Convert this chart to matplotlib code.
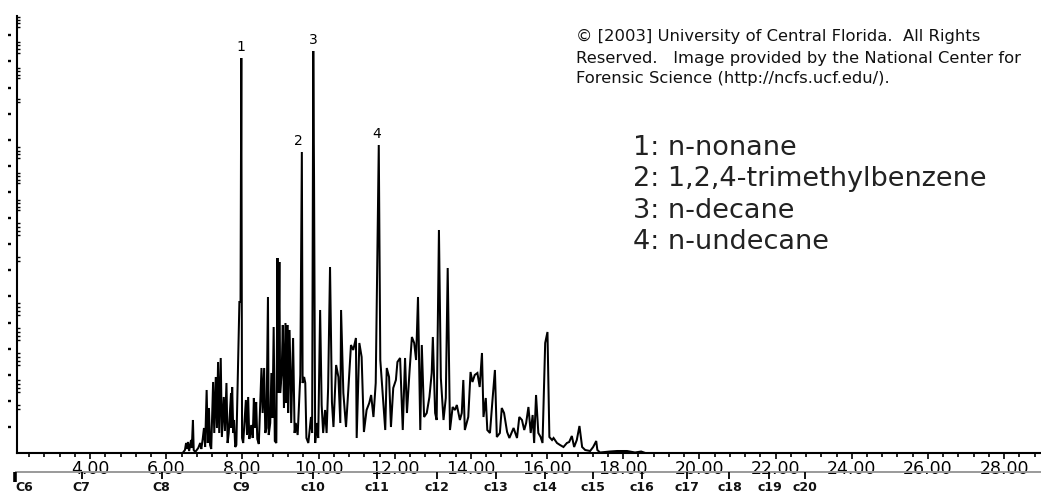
import numpy as np
import matplotlib
matplotlib.use("Agg")
import matplotlib.pyplot as plt
import matplotlib.transforms as mtransforms
from matplotlib.ticker import FixedLocator, MultipleLocator, FormatStrFormatter, NullFormatter

# ---------------- data ----------------
retention_time = [
    2.08, 6.43, 6.49, 6.52, 6.54, 6.57, 6.60, 6.65, 6.67, 6.70, 6.72, 6.76, 6.84, 6.89, 6.92,
    6.96, 6.99, 7.02, 7.06, 7.09, 7.12, 7.15, 7.18, 7.23, 7.26, 7.30, 7.33, 7.36, 7.39, 7.43,
    7.46, 7.51, 7.54, 7.58, 7.61, 7.64, 7.70, 7.71, 7.73, 7.76, 7.78, 7.81, 7.84, 7.92, 7.95,
    7.97, 7.99, 8.02, 8.09, 8.12, 8.15, 8.18, 8.21, 8.24, 8.27, 8.30, 8.33, 8.36, 8.39, 8.43,
    8.50, 8.53, 8.57, 8.60, 8.63, 8.67, 8.69, 8.73, 8.76, 8.79, 8.82, 8.85, 8.89, 8.92, 8.94,
    8.97, 8.99, 9.03, 9.06, 9.09, 9.13, 9.15, 9.18, 9.20, 9.23, 9.25, 9.28, 9.33, 9.37, 9.40,
    9.45, 9.52, 9.56, 9.58, 9.62, 9.65, 9.68, 9.73, 9.80, 9.83, 9.86, 9.88, 9.91, 9.95, 9.99,
    10.04, 10.08, 10.12, 10.17, 10.21, 10.25, 10.30, 10.35, 10.39, 10.46, 10.52, 10.57, 10.59,
    10.65, 10.72, 10.78, 10.85, 10.91, 10.98, 11.00, 11.07, 11.13, 11.19, 11.26, 11.33, 11.38,
    11.44, 11.50, 11.58, 11.62, 11.69, 11.75, 11.79, 11.85, 11.90, 11.96, 12.03, 12.07, 12.14,
    12.21, 12.27, 12.32, 12.39, 12.45, 12.51, 12.56, 12.61, 12.67, 12.71, 12.77, 12.84, 12.91,
    12.97, 13.00, 13.06, 13.10, 13.16, 13.21, 13.28, 13.34, 13.39, 13.45, 13.52, 13.58, 13.63,
    13.71, 13.76, 13.80, 13.84, 13.93, 13.99, 14.04, 14.10, 14.17, 14.23, 14.29, 14.33, 14.39,
    14.43, 14.50, 14.56, 14.63, 14.68, 14.76, 14.81, 14.87, 14.95, 15.01, 15.12, 15.21, 15.27,
    15.34, 15.40, 15.45, 15.51, 15.57, 15.62, 15.66, 15.71, 15.77, 15.83, 15.88, 15.95, 16.01,
    16.06, 16.13, 16.17, 16.26, 16.34, 16.43, 16.52, 16.58, 16.65, 16.71, 16.78, 16.85, 16.92,
    17.00, 17.13, 17.21, 17.29, 17.32, 17.39, 17.65, 17.84, 18.10, 18.31, 18.47, 18.58, 28.97,
]
abundance = [
    0, 0, 3, 10, 4, 11, 2, 13, 5, 33, 3, 1, 5, 10, 4,
    15, 25, 6, 63, 10, 45, 8, 4, 71, 20, 76, 25, 91, 20, 95,
    16, 56, 22, 70, 10, 20, 60, 25, 66, 20, 33, 6, 8, 151, 151,
    395, 15, 10, 53, 18, 56, 14, 20, 28, 15, 55, 25, 51, 14, 9,
    85, 40, 85, 20, 25, 156, 18, 30, 80, 35, 126, 12, 10, 195, 60,
    191, 60, 80, 128, 45, 130, 50, 128, 40, 123, 100, 30, 115, 20, 30,
    18, 78, 301, 70, 76, 70, 15, 10, 36, 20, 402, 276, 10, 30, 15,
    143, 48, 20, 43, 20, 65, 186, 51, 26, 88, 76, 30, 143,
    60, 26, 63, 108, 103, 115, 15, 110, 96, 21, 43, 50, 58,
    36, 70, 308, 93, 56, 23, 85, 76, 26, 65, 73, 91, 95,
    23, 95, 40, 83, 116, 110, 93, 156, 23, 108, 36, 40, 56,
    80, 116, 40, 33, 223, 75, 33, 55, 185, 23, 46, 43, 48,
    33, 40, 73, 23, 36, 81, 71, 78, 80, 66, 100, 36, 55,
    23, 20, 50, 83, 16, 20, 45, 40, 21, 15, 25, 15, 36,
    33, 23, 30, 46, 20, 38, 10, 58, 20, 16, 10, 110, 121,
    16, 13, 15, 10, 8, 6, 10, 11, 17, 6, 13, 27, 6,
    3, 2, 6, 12, 3, 0.5, 1.5, 2, 2, 0.5, 1.5, 0, 0,
]

peak_labels = ["1", "2", "3", "4"]
peak_rt = [7.97, 9.56, 9.86, 11.58]
peak_abundance = [395, 301, 402, 308]
compound_names = ["n-nonane", "1,2,4-trimethylbenzene", "n-decane", "n-undecane"]

time_ticks = [4, 6, 8, 10, 12, 14, 16, 18, 20, 22, 24, 26, 28]
carbon_labels = ["C6", "C7", "C8", "C9", "c10", "c11", "c12", "c13", "c14",
                 "c15", "c16", "c17", "c18", "c19", "c20"]
carbon_rt = [2.03, 3.78, 5.88, 7.96, 9.84, 11.53, 13.10, 14.65, 15.95,
             17.20, 18.49, 19.67, 20.79, 21.84, 22.78]

copyright_lines = ["\u00a9 [2003] University of Central Florida.  All Rights",
                   "Reserved.   Image provided by the National Center for",
                   "Forensic Science (http://ncfs.ucf.edu/)."]

# ---------------- figure ----------------
W, H = 1041, 493
fig = plt.figure(figsize=(W / 100, H / 100), dpi=100)
fig.patch.set_facecolor("white")
ax = fig.add_axes([17 / W, 40 / H, (W - 17) / W, 437 / H])

ax.plot(retention_time, abundance, color="black", lw=1.45, solid_joinstyle="miter")
ax.set_xlim(2.08, 28.97)
ax.set_ylim(0, 437)

for s in ("top", "right"):
    ax.spines[s].set_visible(False)
for s in ("left", "bottom"):
    ax.spines[s].set_linewidth(1.5)

# x axis (minutes)
ax.xaxis.set_major_locator(FixedLocator(time_ticks))
ax.xaxis.set_major_formatter(FormatStrFormatter("%.2f"))
ax.xaxis.set_minor_locator(MultipleLocator(0.4))
ax.tick_params(axis="x", which="major", direction="out", length=4, width=1.2,
               pad=1.0, labelsize=12.5)
ax.tick_params(axis="x", which="minor", direction="out", length=2.6, width=1.2)

# y axis: small inner marks on the spine
inner_marks = [436, 433, 430, 426, 411, 408, 404, 400, 385, 382, 378, 375, 354, 351,
               306, 302, 299, 295, 280, 277, 273, 270, 253, 250, 246, 243,
               230, 226, 222, 218, 196, 192, 150, 146, 142, 138, 125, 121, 117, 113,
               100, 96, 92, 88, 73, 69, 65, 61, 48, 44]
ax.yaxis.set_major_locator(FixedLocator([]))
ax.yaxis.set_minor_locator(FixedLocator(inner_marks))
ax.yaxis.set_minor_formatter(NullFormatter())
ax.tick_params(axis="y", which="minor", direction="in", length=2.2, width=1.0)

# detached outer marks left of the spine
sec = ax.secondary_yaxis(-6 / 1024)
sec.spines["left"].set_visible(False)
sec.set_yticks(list(np.arange(26.1, 430, 26.1)))
sec.yaxis.set_major_formatter(NullFormatter())
sec.tick_params(axis="y", which="both", direction="out", length=2.4, width=1.7)
sec.yaxis.set_minor_locator(FixedLocator([]))

# peak numbers
dx = {"1": 0, "2": -2.6, "3": 0, "4": -1.4}
for lab, t, h in zip(peak_labels, peak_rt, peak_abundance):
    ax.annotate(lab, xy=(t, h), xytext=(dx[lab], 5.2), textcoords="offset points",
                ha="center", va="baseline", fontsize=10, color="black")

# carbon-number scale beneath the time axis
trans = mtransforms.blended_transform_factory(ax.transData, ax.transAxes)
ax.plot([carbon_rt[0], 28.97], [-0.0446, -0.0446], transform=trans, clip_on=False,
        color="#9a9a9a", lw=1.4, solid_capstyle="butt")
ax.vlines(carbon_rt[1:], -0.0446, -0.060, transform=trans, clip_on=False,
          color="black", lw=1.3)
ax.vlines(carbon_rt[:1], -0.0446, -0.066, transform=trans, clip_on=False,
          color="black", lw=2.6)
xmin = ax.get_xlim()[0]
for lab, t in zip(carbon_labels, carbon_rt):
    ax.text(t, -0.079, lab, transform=trans, ha=("left" if t < xmin else "center"),
            va="center", fontsize=9, fontweight="bold", color="#111111", clip_on=False)

# copyright notice (one text per line, positioned by baseline)
for i, line in enumerate(copyright_lines):
    fig.text(576 / W, 1 - (41.5 + 21 * i) / H, line, ha="left", va="baseline",
             fontsize=11.8, color="#111111")

# compound key
for i, (lab, name) in enumerate(zip(peak_labels, compound_names)):
    fig.text(633 / W, 1 - (155 + 31.3 * i) / H, f"{lab}: {name}", ha="left",
             va="baseline", fontsize=19.5, color="#222222")

fig.savefig("out.png", dpi=100)
